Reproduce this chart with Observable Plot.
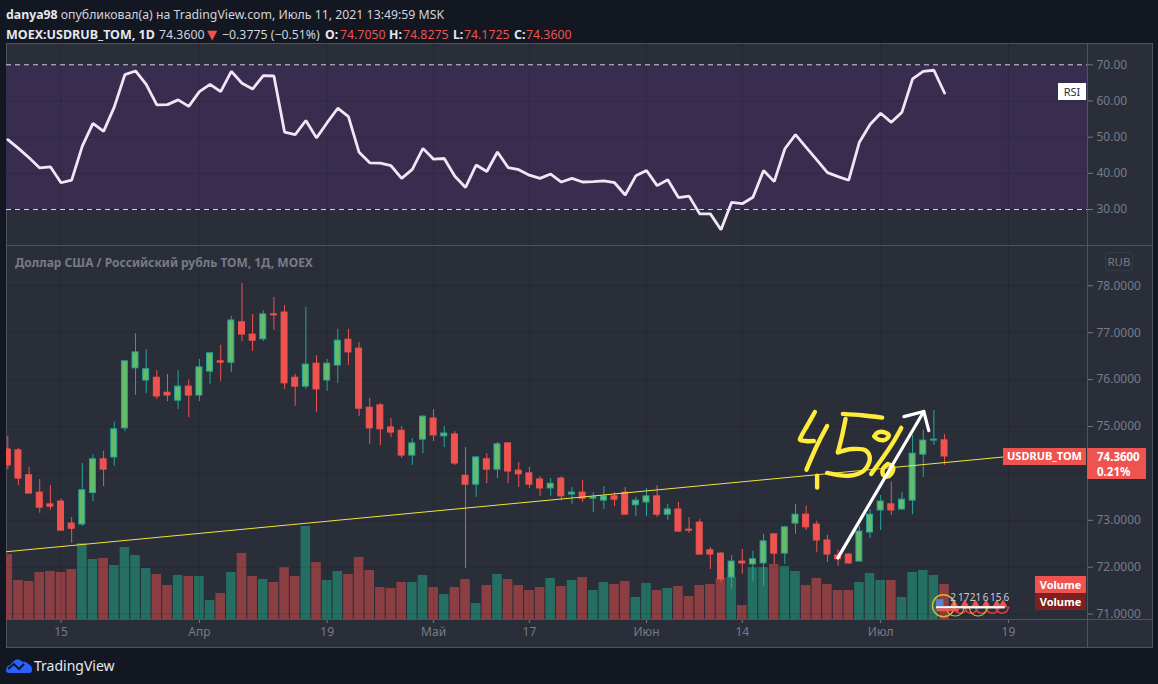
<!doctype html>
<html>
<head>
<meta charset="utf-8">
<script src="https://cdn.jsdelivr.net/npm/d3@7"></script>
<script src="https://cdn.jsdelivr.net/npm/@observablehq/plot@0.6"></script>
<style>
  html, body { margin: 0; padding: 0; background: #131722; overflow: hidden; }
  #page { position: relative; width: 1158px; height: 684px; font-family: "Noto Sans", sans-serif; color: #d1d4dc; }
  #page > * { position: absolute; }
  #panel { left: 6px; top: 43px; width: 1145px; height: 603px; background: #2a2e39; border: 1px solid #50535e; }
  #rsi, #volume, #price { width: 1146px; }
  .sep { background: #50535e; }
  .hd { font-size: 12.3px; white-space: nowrap; line-height: 16px; }
  .b { font-weight: 700; color: #e6e8ee; }
  .r { color: #ef5350; }
  .tag { color: #fff; font-weight: 700; font-size: 11px; text-align: center; box-sizing: border-box; }
</style>
</head>
<body>
<div id="page">
  <div id="panel"></div>
  <div id="volume" style="left:6px;top:245px"></div>
  <div id="rsi" style="left:6px;top:43px"></div>
  <div id="price" style="left:6px;top:245px"></div>
  <div class="sep" style="left:6px;top:245px;width:1146px;height:1px"></div>
  <div class="sep" style="left:6px;top:619px;width:1146px;height:1px"></div>
  <div class="sep" style="left:1087px;top:43px;width:1px;height:604px"></div>

  <div class="hd" style="left:6px;top:7px"><span class="b">danya98</span> опубликовал(а) на TradingView.com, Июль 11, 2021 13:49:59 MSK</div>
  <div class="hd b" style="left:6px;top:27px;font-size:12.5px">MOEX:USDRUB_TOM, 1D</div>
  <div class="hd" style="left:159px;top:27px">74.3600</div>
  <div class="hd r" style="left:207px;top:27px;font:13px/16px 'DejaVu Sans'">▼</div>
  <div class="hd" style="left:222px;top:27px">−0.3775 (−0.51%)</div>
  <div class="hd b" style="left:325px;top:27px">O:</div><div class="hd r" style="left:340px;top:27px">74.7050</div>
  <div class="hd b" style="left:389px;top:27px">H:</div><div class="hd r" style="left:403px;top:27px">74.8275</div>
  <div class="hd b" style="left:453px;top:27px">L:</div><div class="hd r" style="left:464px;top:27px">74.1725</div>
  <div class="hd b" style="left:514px;top:27px">C:</div><div class="hd r" style="left:526px;top:27px">74.3600</div>

  <div style="left:15px;top:254px;font-size:12px;font-weight:700;color:#787b86;white-space:nowrap">Доллар США / Российский рубль ТОМ, 1Д, MOEX</div>
  <div style="left:1105px;top:252px;width:28px;height:19px;box-sizing:border-box;border:1px solid #363a45;border-radius:4px;font-size:11.5px;line-height:17px;text-align:center;color:#787b86">RUB</div>
  <div style="left:1058px;top:83px;width:28px;height:17px;background:#fff;color:#2a2e39;font-size:11px;line-height:17px;text-align:center">RSI</div>
  <div class="tag" style="left:1003px;top:448px;width:83px;height:17px;background:#ef5350;line-height:16px">USDRUB_TOM</div>
  <div class="tag" style="left:1087px;top:448px;width:59px;height:31px;background:#ef5350;line-height:15px;padding:1px 0 0 10px;text-align:left;font-size:11.5px">74.3600<br>0.21%</div>
  <div class="tag" style="left:1035px;top:576px;width:51px;height:17px;background:#ef5350;line-height:17px">Volume</div>
  <div class="tag" style="left:1035px;top:593px;width:51px;height:17px;background:#801f1f;line-height:17px">Volume</div>

  <svg width="27" height="16" viewBox="0 0 27 16" style="left:6px;top:658px">
    <path d="M0 12 Q0 8 4 7 L8 3 Q11 0 14 2 L17 4 Q20 3 22 6 Q26 7 26 12 Q26 15 23 15 L3 15 Q0 15 0 12Z" fill="#2962ff"/>
    <path d="M2 11 L8 6 L13 11 L18 6" fill="none" stroke="#131722" stroke-width="2"/>
  </svg>
  <div style="left:34px;top:656px;font-size:14px;color:#e6e8ee;line-height:20px">TradingView</div>
</div>

<script>
  const opens = [74.51,74.49,73.96,73.59,73.34,73.40,72.93,72.91,73.58,74.30,74.34,74.96,76.24,75.98,76.04,75.72,75.55,75.85,75.66,76.17,76.39,76.36,77.22,76.96,76.86,77.39,77.43,76.04,75.85,76.34,75.98,76.30,
    76.85,76.66,75.40,75.45,74.98,74.91,74.38,74.72,75.17,74.79,74.83,73.95,73.76,74.30,74.08,74.64,74.06,74.00,73.87,73.68,73.89,73.55,73.59,73.46,73.42,73.51,73.59,73.32,73.38,73.51,73.12,73.23,
    72.80,72.95,72.36,72.29,71.78,72.12,72.06,72.08,72.70,72.29,72.93,73.12,72.91,72.57,72.25,72.27,72.12,72.74,73.21,73.34,73.23,73.42,74.40,74.70,74.705];
  const highs = [74.79,74.53,74.13,73.87,73.74,73.46,73.06,74.21,74.40,74.47,75.09,76.39,76.98,76.64,76.19,76.11,76.19,76.00,76.43,76.56,76.73,77.35,78.05,77.39,77.47,77.75,77.58,76.11,77.54,76.51,76.43,77.07,
    77.07,76.79,75.60,75.49,75.17,75.00,74.74,75.23,75.36,75.00,74.89,74.55,74.36,74.42,74.66,74.64,74.23,74.13,73.93,73.89,73.93,73.70,73.85,73.59,73.72,73.59,73.70,73.49,73.68,73.74,73.34,73.38,
    73.06,73.02,72.42,72.31,72.25,72.38,72.34,72.70,72.70,72.87,73.34,73.30,72.98,72.68,72.36,72.29,72.87,73.23,73.53,73.81,73.59,74.81,74.92,75.34,74.8275];
  const lows = [74.08,73.74,73.57,73.15,73.21,72.78,72.51,72.87,73.40,73.72,74.15,74.89,75.66,75.70,75.58,75.53,75.36,75.19,75.53,75.90,75.96,76.15,76.81,76.60,76.81,77.05,75.79,75.43,75.79,75.30,75.75,75.92,
    76.30,75.21,74.62,74.59,74.76,74.32,74.17,74.42,74.68,74.55,74.17,71.97,73.49,73.78,73.89,73.78,73.70,73.68,73.51,73.51,73.42,73.34,73.38,73.17,73.23,73.29,73.12,73.08,73.08,73.06,73.00,72.74,
    72.72,72.25,71.95,71.67,71.53,71.85,71.70,71.59,72.06,72.06,72.70,72.78,72.31,72.10,72.02,72.06,72.12,72.61,72.78,73.10,73.21,73.12,73.91,74.60,74.1725];
  const closes = [74.17,73.89,73.57,73.27,73.29,72.78,72.82,73.64,74.30,74.08,74.94,76.39,76.58,76.22,75.64,75.66,75.85,75.66,76.26,76.56,76.36,77.26,76.96,76.83,77.39,77.37,75.92,75.85,76.32,75.79,76.34,76.83,
    76.58,75.38,74.96,74.94,74.87,74.38,74.64,75.21,74.81,74.85,74.21,73.76,74.34,74.08,74.62,74.04,73.98,73.76,73.68,73.78,73.51,73.59,73.46,73.49,73.51,73.44,73.12,73.42,73.51,73.12,73.23,72.76,
    72.78,72.27,72.27,71.74,72.12,72.08,72.17,72.55,72.29,72.85,73.12,72.85,72.57,72.27,72.17,72.08,72.76,73.12,73.40,73.21,73.44,74.42,74.70,74.72,74.36];
  // no scale for volume in the picture, so these are relative
  const volumes = [65,39,38,47,48,47,50,76,60,61,54,72,64,51,45,34,44,43,43,19,26,47,66,43,40,37,52,43,93,57,39,48,45,62,49,32,31,37,37,44,32,25,32,40,16,34,45,
    40,34,29,32,41,33,39,42,29,37,35,38,22,36,29,31,33,23,34,35,41,42,14,52,52,55,53,48,34,41,35,29,29,37,46,39,39,22,47,49,44,35];
  const rsiValues = [49.3,46.9,44.3,41.5,41.8,37.4,38.1,47.5,53.8,51.6,58.3,67.3,68.3,64.6,58.9,59.0,60.3,58.5,62.6,64.6,62.6,68.2,64.9,63.3,67.0,66.9,51.4,50.7,54.6,49.8,54.0,58.0,
    55.7,45.8,42.9,42.8,42.1,38.6,41.1,46.9,43.9,44.1,39.2,36.1,42.3,40.5,45.9,41.6,41.0,39.5,38.6,39.8,37.6,38.6,37.6,37.7,37.9,37.4,34.0,39.3,40.8,36.6,38.2,33.3,
    33.7,28.8,28.8,24.4,32.0,31.6,33.4,40.8,37.7,46.8,50.7,47.2,43.7,40.2,39.1,38.1,48.6,53.5,56.6,54.1,56.9,66.1,68.2,68.5,62.2];

  const timeTicks = [5,18,30,40,49,60,69,82,94];
  const timeLabels = ["15","Апр","19","Май","17","Июн","14","Июл","19"];
  const priceTicks = [71,72,73,75,76,77,78];
  const priceGrid = [71,72,73,74,75,76,77,78];
  const rsiTicks = [30,40,50,60,70];

  // trend line and the hand drawing, in chart units (bar number, price)
  const trendBars = [-0.12,93.54];
  const trendPrices = [72.33,74.35];
  const yellowStrokes = [
    {bars:[75.82,75.10,74.53,74.41,74.94,75.72], prices:[75.31,75.02,74.79,74.72,74.69,74.69]},
    {bars:[76.97,76.03,75.03], prices:[75.01,74.60,74.08]},
    {bars:[78.45,80.26,82.14], prices:[75.27,75.24,75.19]},
    {bars:[78.70,78.38,77.98], prices:[75.16,74.81,74.45]},
    {bars:[77.98,79.32,80.58,80.98,80.42,79.01,76.97], prices:[74.45,74.52,74.49,74.31,74.06,73.95,74.01]},
    {bars:[76.03,76.03], prices:[73.95,73.70]},
    {bars:[83.93,83.08,81.11], prices:[74.97,74.63,73.99]},
    {bars:[81.39,81.73,82.30,82.77,82.45,81.83,81.39], prices:[74.79,74.87,74.88,74.81,74.72,74.72,74.79]},
    {bars:[82.67,82.23,82.23,82.61,82.99,83.17,82.67], prices:[74.20,74.10,73.97,73.93,73.99,74.13,74.20]}
  ];
  const arrowStrokes = [
    {bars:[77.98,86.05], prices:[72.20,75.32]},
    {bars:[84.18,86.05,86.52], prices:[75.21,75.32,74.91]}
  ];

  // calendar markers at the bottom right
  const eventLabels = ["2","17","21","6","15","6"];
  const eventBars = [88.8,89.8,90.9,91.85,92.8,93.8];
  const redArcs = [89.5,90.5,91.5,92.5,93.4];
  const goldArcs = [89,91.15];
  const redPeaks = [88.9,89.9,90.9,91.9,92.9,93.5];

  const axisColor = "#787b86", font = '"Noto Sans", sans-serif';
  const up = "#26a69a", upFill = "#66bb6a", down = "#ef5350";
  const xDomain = [-0.122,101.43];
  const W = 1146, MR = 65;

  const candles = opens.map((open, i) => ({
    i, open, high: highs[i], low: lows[i], close: closes[i], volume: volumes[i], rsi: rsiValues[i],
    up: closes[i] >= open
  }));
  const toLine = (strokes) => strokes.flatMap((s, k) => s.bars.map((b, j) => ({k, b, p: s.prices[j]})));
  // lower half of a ring, as the calendar badges overlap each other
  const toArcs = (centers, w, h) => centers.flatMap((c, k) => [
    {k, b: c - w, p: 71.15}, {k, b: c - w * 0.7, p: 71.15 - h * 0.7}, {k, b: c, p: 71.15 - h},
    {k, b: c + w * 0.7, p: 71.15 - h * 0.7}, {k, b: c + w, p: 71.15}
  ]);
  const gridColor = {stroke: "#000", strokeOpacity: 0.12};
  const baseStyle = {background: "transparent", fontFamily: font, fontSize: "12px", overflow: "visible"};

  const rsiPlot = Plot.plot({
    width: W, height: 202, marginLeft: 0, marginRight: MR, marginTop: 0, marginBottom: 0,
    style: baseStyle,
    x: {domain: xDomain, axis: null},
    y: {domain: [20.05,75.89], axis: null},
    marks: [
      Plot.rect([{}], {x1: xDomain[0], x2: xDomain[1], y1: 30, y2: 70, fill: "#382d4e"}),
      Plot.ruleX(timeTicks, gridColor),
      Plot.ruleY(rsiTicks, gridColor),
      Plot.ruleY([30,70], {stroke: "#d1d4dc", strokeDasharray: "5,4"}),
      Plot.line(candles, {x: "i", y: "rsi", stroke: "#f3e5f5", strokeWidth: 2.8, strokeLinejoin: "miter"}),
      Plot.axisY({anchor: "right", ticks: rsiTicks, tickFormat: d3.format(".2f"), tickSize: 5, tickPadding: 4, color: axisColor, label: null, fontSize: 12})
    ]
  });
  document.querySelector("#rsi").append(rsiPlot);

  const volumePlot = Plot.plot({
    width: W, height: 402, marginLeft: 0, marginRight: MR, marginTop: 0, marginBottom: 28,
    style: baseStyle,
    x: {domain: xDomain, axis: null},
    y: {domain: [0,374], axis: null},
    color: {type: "identity"},
    marks: [
      Plot.rect(candles, {
        x1: (d) => d.i - 0.45, x2: (d) => d.i + 0.45, y1: 0, y2: "volume",
        fill: (d) => (d.up ? "#246f61" : "#8b3f42"), clip: true
      })
    ]
  });
  document.querySelector("#volume").append(volumePlot);

  const pricePlot = Plot.plot({
    width: W, height: 402, marginLeft: 0, marginRight: MR, marginTop: 0, marginBottom: 28,
    style: baseStyle,
    x: {domain: xDomain, axis: null},
    y: {domain: [70.885,78.859], axis: null},
    color: {type: "identity"},
    marks: [
      Plot.ruleX(timeTicks, gridColor),
      Plot.ruleY(priceGrid, gridColor),
      Plot.ruleX(candles, {x: "i", y1: "low", y2: "high", stroke: (d) => (d.up ? up : down), clip: true}),
      Plot.rect(candles, {
        x1: (d) => d.i - 0.28, x2: (d) => d.i + 0.28, y1: "open", y2: "close",
        fill: (d) => (d.up ? upFill : down), stroke: (d) => (d.up ? up : down), clip: true
      }),
      Plot.line(trendBars.map((b, j) => ({b, p: trendPrices[j]})), {x: "b", y: "p", stroke: "#f2e33a", strokeWidth: 1}),

      // calendar markers
      Plot.line(toArcs(redArcs, 0.62, 0.13), {x: "b", y: "p", z: "k", stroke: "#d9403f", strokeWidth: 1.5, curve: "catmull-rom"}),
      Plot.line(toArcs(goldArcs, 0.85, 0.19), {x: "b", y: "p", z: "k", stroke: "#e0b32b", strokeWidth: 1.2, curve: "catmull-rom"}),
      Plot.dot(redPeaks, {x: (d) => d, y: () => 71.2, r: 3.5, symbol: "triangle", fill: down}),
      Plot.dot([87.9], {x: (d) => d, y: () => 71.18, r: 11, stroke: "#e0b32b", strokeWidth: 1.5, fill: "none"}),
      Plot.rect([{}], {x1: 87.25, x2: 93.7, y1: 71.11, y2: 71.16, fill: "#f5f5f5"}),
      Plot.rect([{}], {x1: 87.25, x2: 87.95, y1: 71.16, y2: 71.31, fill: "#5b82cf"}),
      Plot.rect([{}], {x1: 87.3, x2: 89.4, y1: 71.05, y2: 71.11, fill: "#ef5350"}),
      Plot.text(eventLabels, {x: (d, j) => eventBars[j], y: () => 71.35, text: (d) => d, fill: "#c8cbd3", fontSize: 10}),

      // 45% and the arrow
      Plot.line(toLine(yellowStrokes), {x: "b", y: "p", z: "k", stroke: "#ffeb3b", strokeWidth: 4.4, strokeLinecap: "round", strokeLinejoin: "round", curve: "catmull-rom"}),
      Plot.line(toLine(arrowStrokes), {x: "b", y: "p", z: "k", stroke: "#fff", strokeWidth: 3.2, strokeLinecap: "round", strokeLinejoin: "round"}),

      Plot.axisY({anchor: "right", ticks: priceTicks, tickFormat: d3.format(".4f"), tickSize: 5, tickPadding: 4, color: axisColor, label: null, fontSize: 12}),
      Plot.axisX({ticks: timeTicks, tickFormat: (d) => timeLabels[timeTicks.indexOf(d)], tickSize: 4, tickPadding: 4, color: axisColor, label: null, fontSize: 12})
    ]
  });
  document.querySelector("#price").append(pricePlot);
</script>
</body>
</html>
